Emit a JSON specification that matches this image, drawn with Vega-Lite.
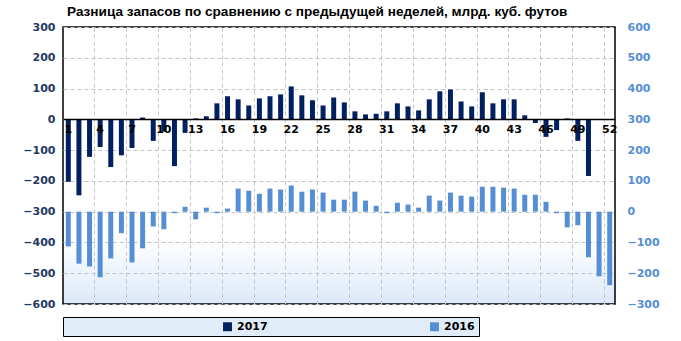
{
  "$schema": "https://vega.github.io/schema/vega-lite/v6.json",
  "width": 552,
  "height": 277,
  "autosize": {"type": "none"},
  "padding": {"left": 63, "top": 27, "right": 66, "bottom": 37},
  "background": "white",
  "config": {
    "font": "DejaVu Sans",
    "view": {
      "stroke": "black",
      "strokeWidth": 1.5,
      "fill": {
        "gradient": "linear",
        "x1": 0, "y1": 0, "x2": 0, "y2": 1,
        "stops": [
          {"offset": 0, "color": "#ffffff"},
          {"offset": 0.76, "color": "#ffffff"},
          {"offset": 1, "color": "#dce9f9"}
        ]
      }
    }
  },
  "title": {
    "text": "Разница  запасов по сравнению  с предыдущей неделей, млрд. куб. футов",
    "anchor": "start",
    "frame": "group",
    "dx": 4,
    "offset": 2,
    "font": "Liberation Sans",
    "fontSize": 13.6,
    "fontWeight": "bold",
    "color": "black"
  },
  "datasets": {
    "d17": [
      {"w": 1, "s": "2017", "v": -203}, {"w": 2, "s": "2017", "v": -247}, {"w": 3, "s": "2017", "v": -122},
      {"w": 4, "s": "2017", "v": -90}, {"w": 5, "s": "2017", "v": -155}, {"w": 6, "s": "2017", "v": -117},
      {"w": 7, "s": "2017", "v": -93}, {"w": 8, "s": "2017", "v": 6}, {"w": 9, "s": "2017", "v": -70},
      {"w": 10, "s": "2017", "v": -40}, {"w": 11, "s": "2017", "v": -152}, {"w": 12, "s": "2017", "v": -44},
      {"w": 13, "s": "2017", "v": 3}, {"w": 14, "s": "2017", "v": 10}, {"w": 15, "s": "2017", "v": 52},
      {"w": 16, "s": "2017", "v": 75}, {"w": 17, "s": "2017", "v": 65}, {"w": 18, "s": "2017", "v": 45},
      {"w": 19, "s": "2017", "v": 68}, {"w": 20, "s": "2017", "v": 75}, {"w": 21, "s": "2017", "v": 81},
      {"w": 22, "s": "2017", "v": 107}, {"w": 23, "s": "2017", "v": 78}, {"w": 24, "s": "2017", "v": 62},
      {"w": 25, "s": "2017", "v": 45}, {"w": 26, "s": "2017", "v": 71}, {"w": 27, "s": "2017", "v": 55},
      {"w": 28, "s": "2017", "v": 26}, {"w": 29, "s": "2017", "v": 16}, {"w": 30, "s": "2017", "v": 18},
      {"w": 31, "s": "2017", "v": 26}, {"w": 32, "s": "2017", "v": 52}, {"w": 33, "s": "2017", "v": 42},
      {"w": 34, "s": "2017", "v": 29}, {"w": 35, "s": "2017", "v": 65}, {"w": 36, "s": "2017", "v": 91},
      {"w": 37, "s": "2017", "v": 97}, {"w": 38, "s": "2017", "v": 58}, {"w": 39, "s": "2017", "v": 42},
      {"w": 40, "s": "2017", "v": 88}, {"w": 41, "s": "2017", "v": 52}, {"w": 42, "s": "2017", "v": 65},
      {"w": 43, "s": "2017", "v": 65}, {"w": 44, "s": "2017", "v": 13}, {"w": 45, "s": "2017", "v": -12},
      {"w": 46, "s": "2017", "v": -57}, {"w": 47, "s": "2017", "v": -35}, {"w": 48, "s": "2017", "v": 3},
      {"w": 49, "s": "2017", "v": -70}, {"w": 50, "s": "2017", "v": -184}
    ],
    "d16": [
      {"w": 1, "s": "2016", "v": -113}, {"w": 2, "s": "2016", "v": -169}, {"w": 3, "s": "2016", "v": -178},
      {"w": 4, "s": "2016", "v": -213}, {"w": 5, "s": "2016", "v": -152}, {"w": 6, "s": "2016", "v": -70},
      {"w": 7, "s": "2016", "v": -165}, {"w": 8, "s": "2016", "v": -119}, {"w": 9, "s": "2016", "v": -48},
      {"w": 10, "s": "2016", "v": -57}, {"w": 11, "s": "2016", "v": -5}, {"w": 12, "s": "2016", "v": 16},
      {"w": 13, "s": "2016", "v": -25}, {"w": 14, "s": "2016", "v": 13}, {"w": 15, "s": "2016", "v": -5},
      {"w": 16, "s": "2016", "v": 10}, {"w": 17, "s": "2016", "v": 75}, {"w": 18, "s": "2016", "v": 68},
      {"w": 19, "s": "2016", "v": 58}, {"w": 20, "s": "2016", "v": 75}, {"w": 21, "s": "2016", "v": 72},
      {"w": 22, "s": "2016", "v": 85}, {"w": 23, "s": "2016", "v": 65}, {"w": 24, "s": "2016", "v": 72},
      {"w": 25, "s": "2016", "v": 62}, {"w": 26, "s": "2016", "v": 39}, {"w": 27, "s": "2016", "v": 39},
      {"w": 28, "s": "2016", "v": 65}, {"w": 29, "s": "2016", "v": 36}, {"w": 30, "s": "2016", "v": 19},
      {"w": 31, "s": "2016", "v": -5}, {"w": 32, "s": "2016", "v": 29}, {"w": 33, "s": "2016", "v": 23},
      {"w": 34, "s": "2016", "v": 13}, {"w": 35, "s": "2016", "v": 52}, {"w": 36, "s": "2016", "v": 36},
      {"w": 37, "s": "2016", "v": 62}, {"w": 38, "s": "2016", "v": 52}, {"w": 39, "s": "2016", "v": 49},
      {"w": 40, "s": "2016", "v": 81}, {"w": 41, "s": "2016", "v": 81}, {"w": 42, "s": "2016", "v": 78},
      {"w": 43, "s": "2016", "v": 75}, {"w": 44, "s": "2016", "v": 55}, {"w": 45, "s": "2016", "v": 55},
      {"w": 46, "s": "2016", "v": 32}, {"w": 47, "s": "2016", "v": -5}, {"w": 48, "s": "2016", "v": -51},
      {"w": 49, "s": "2016", "v": -44}, {"w": 50, "s": "2016", "v": -148}, {"w": 51, "s": "2016", "v": -210},
      {"w": 52, "s": "2016", "v": -239}
    ]
  },
  "layer": [
    {
      "data": {"name": "d17"},
      "mark": {"type": "bar", "width": {"band": 0.47}},
      "encoding": {
        "x": {
          "field": "w", "type": "ordinal",
          "scale": {"domain": [1,2,3,4,5,6,7,8,9,10,11,12,13,14,15,16,17,18,19,20,21,22,23,24,25,26,27,28,29,30,31,32,33,34,35,36,37,38,39,40,41,42,43,44,45,46,47,48,49,50,51,52], "padding": 0},
          "axis": {
            "orient": "bottom", "offset": -185, "values": [1,4,7,10,13,16,19,22,25,28,31,34,37,40,43,46,49,52],
            "title": null, "grid": false, "ticks": false, "labelAngle": 0,
            "domainColor": "black", "domainWidth": 1.5, "labelPadding": 4,
            "labelFont": "DejaVu Sans", "labelFontSize": 11, "labelFontWeight": "bold", "labelColor": "black",
            "zindex": 1
          }
        },
        "y": {
          "field": "v", "type": "quantitative",
          "scale": {"domain": [-600, 300], "nice": false, "zero": false},
          "axis": {
            "orient": "left", "values": [-600,-500,-400,-300,-200,-100,0,100,200,300],
            "title": null, "grid": true, "gridDash": [4, 3], "gridColor": "#c4c4c4",
            "domain": false, "ticks": false, "labelPadding": 8,
            "labelFont": "DejaVu Sans", "labelFontSize": 11, "labelFontWeight": "bold", "labelColor": "#1f3864"
          }
        },
        "color": {
          "field": "s", "type": "nominal",
          "scale": {"domain": ["2017", "2016"], "range": ["#002060", "#558ed5"]},
          "legend": {
            "orient": "none", "legendX": 0, "legendY": 290, "direction": "horizontal", "columns": 2,
            "title": null, "symbolType": "square", "symbolSize": 80, "symbolStrokeWidth": 0,
            "symbolOffset": 155, "labelOffset": 4, "columnPadding": 6, "padding": 4,
            "strokeColor": "black", "fillColor": "#e1ecf9",
            "labelFont": "DejaVu Sans", "labelFontSize": 11, "labelFontWeight": "bold", "labelColor": "black",
            "labelLimit": 0,
            "labelExpr": "datum.label == '2016' ? pad(datum.label, 42, '\u00a0') : datum.label"
          }
        }
      }
    },
    {
      "data": {"name": "d16"},
      "mark": {"type": "bar", "width": {"band": 0.47}},
      "encoding": {
        "x": {
          "field": "w", "type": "ordinal",
          "axis": {
            "orient": "top", "values": [4,7,10,13,16,19,22,25,28,31,34,37,40,43,46,49,52],
            "bandPosition": 0, "title": null, "grid": true, "gridDash": [4, 3], "gridColor": "#c4c4c4",
            "labels": false, "ticks": false, "domain": false
          }
        },
        "y": {
          "field": "v", "type": "quantitative",
          "scale": {"domain": [-300, 600], "nice": false, "zero": false},
          "axis": {
            "orient": "right", "values": [-300,-200,-100,0,100,200,300,400,500,600],
            "title": null, "grid": false, "domain": false, "ticks": false, "labelPadding": 12,
            "labelFont": "DejaVu Sans", "labelFontSize": 11, "labelFontWeight": "bold", "labelColor": "#558ed5"
          }
        },
        "color": {"field": "s", "type": "nominal"}
      }
    }
  ],
  "resolve": {"scale": {"y": "independent"}}
}
